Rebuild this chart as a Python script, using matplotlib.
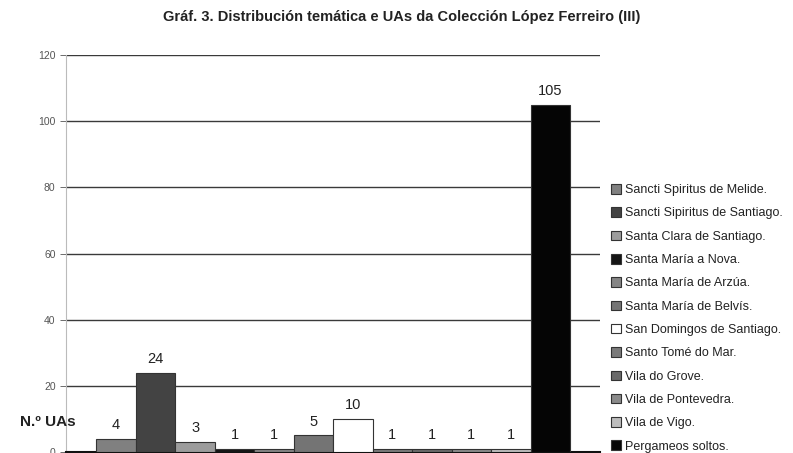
import matplotlib
matplotlib.use("Agg")
import matplotlib.pyplot as plt
from matplotlib.patches import Patch

# data
labels = [
    "Sancti Spiritus de Melide.",
    "Sancti Sipiritus de Santiago.",
    "Santa Clara de Santiago.",
    "Santa María a Nova.",
    "Santa María de Arzúa.",
    "Santa María de Belvís.",
    "San Domingos de Santiago.",
    "Santo Tomé do Mar.",
    "Vila do Grove.",
    "Vila de Pontevedra.",
    "Vila de Vigo.",
    "Pergameos soltos.",
]
values = [4, 24, 3, 1, 1, 5, 10, 1, 1, 1, 1, 105]
colors = ["#808080", "#434343", "#9c9c9c", "#151515", "#858585", "#747474",
          "#ffffff", "#7a7a7a", "#6a6a6a", "#8a8a8a", "#bdbdbd", "#050505"]
yticks = [0, 20, 40, 60, 80, 100, 120]

plt.rcParams["font.family"] = ["Liberation Sans", "DejaVu Sans"]

fig = plt.figure(figsize=(7.93, 4.53), dpi=100)
ax = fig.add_axes([66 / 793, 1 / 453, (600 - 66) / 793, (452 - 55) / 453])

x = list(range(len(values)))
ax.bar(x, values, width=1.0, color=colors, edgecolor="#333333", linewidth=0.8, zorder=3)

for xi, v in zip(x, values):
    ax.annotate(str(v), (xi, v), xytext=(0, 5), textcoords="offset points",
                ha="center", va="bottom", fontsize=10.5, color="#222222")

ax.set_xlim(-1.27, 12.26)
ax.set_ylim(0, 120)
ax.set_yticks(yticks)
ax.set_xticks([])
ax.tick_params(axis="y", labelsize=7.5, colors="#555555", length=4, width=0.6)
ax.yaxis.grid(True, color="#3a3a3a", linewidth=1.0, zorder=1)

for s in ["top", "right"]:
    ax.spines[s].set_visible(False)
ax.spines["left"].set_color("#bbbbbb")
ax.spines["left"].set_linewidth(0.8)
ax.spines["bottom"].set_color("#111111")
ax.spines["bottom"].set_linewidth(1.5)

fig.text(20 / 793, 1 - 422 / 453, "N.º UAs", fontsize=11, fontweight="bold",
         ha="left", va="center", color="#222222")

fig.text(402 / 793, 1 - 17 / 453,
         "Gráf. 3. Distribución temática e UAs da Colección López Ferreiro (III)",
         fontsize=10.5, fontweight="bold", ha="center", va="center",
         family=["Liberation Sans Narrow", "Liberation Sans"], color="#222222")

handles = [Patch(facecolor=c, edgecolor="#333333", linewidth=0.8) for c in colors]
fig.legend(handles, labels, loc="upper left", bbox_to_anchor=(606 / 793, 1 - 179 / 453),
           frameon=False, fontsize=9, handlelength=0.8, handleheight=0.8,
           handletextpad=0.3, labelspacing=0.895, borderaxespad=0, labelcolor="#222222")

plt.savefig("out.png", dpi=100)
plt.close()
